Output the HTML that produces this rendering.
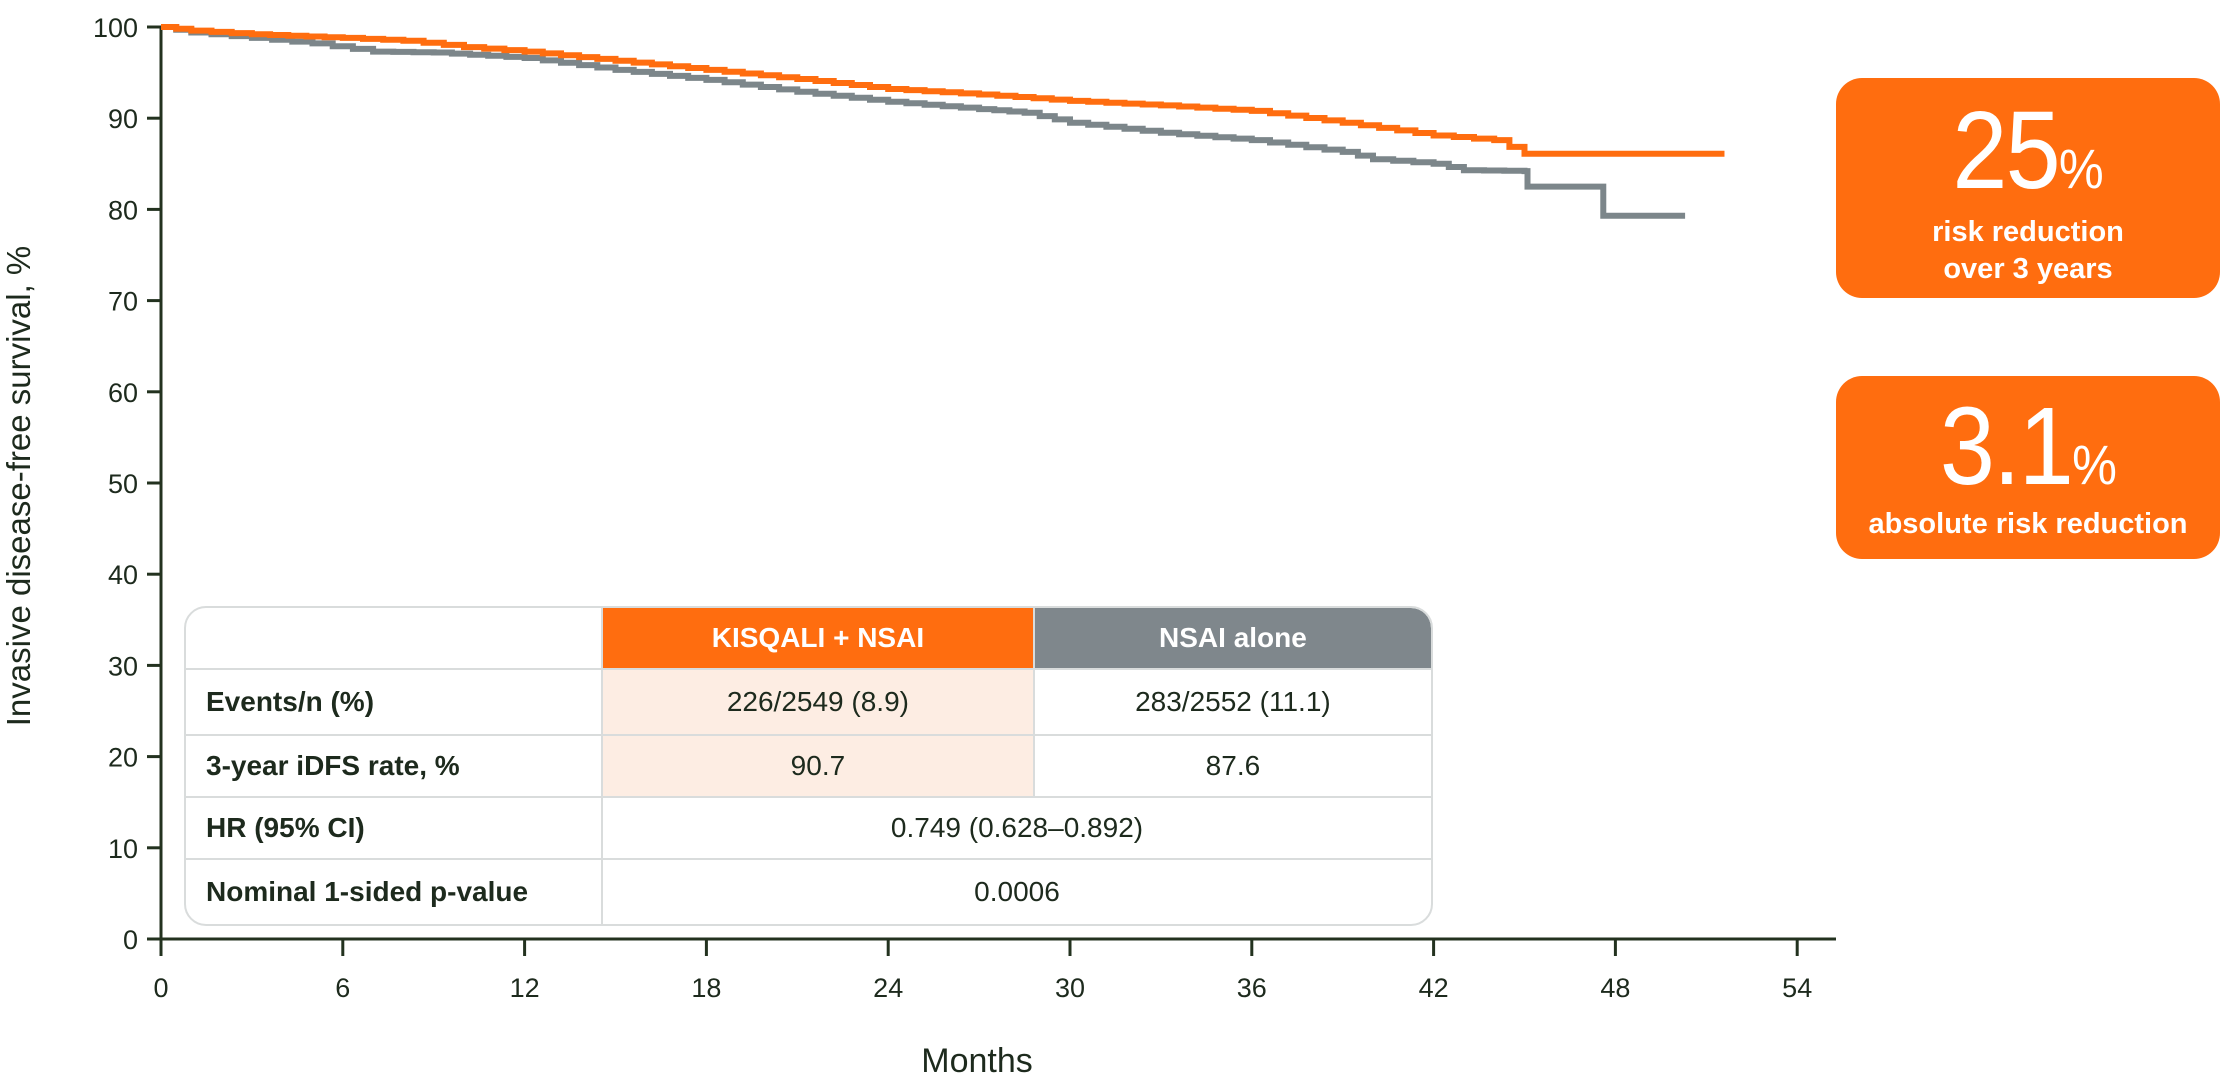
<!DOCTYPE html>
<html><head><meta charset="utf-8"><style>
body{margin:0;background:#fff;width:2220px;height:1091px;overflow:hidden;font-family:"Liberation Sans",sans-serif;color:#1d2a1d}
.box{position:absolute;left:1836px;width:384px;background:#FF6D0F;border-radius:26px;color:#fff;text-align:center}
.big{font-size:110px;font-weight:300;letter-spacing:-2px;line-height:1;display:inline-block;transform:scaleX(0.9)}
.big span{font-size:56px;letter-spacing:0}
.sub{font-size:29px;font-weight:bold;line-height:37px}
table{position:absolute;left:184px;top:606px;width:1249px;border-collapse:separate;border-spacing:0;border:2px solid #d9dcdc;border-radius:22px;font-size:28px;background:#fff;overflow:hidden}
td{height:60px;border-top:2px solid #d9dcdc;text-align:center;padding:0}
td.l{text-align:left;padding-left:20px;font-weight:bold;width:395px}
tr:first-child td{border-top:none}
.c2{border-left:2px solid #d9dcdc}
.c3{border-left:2px solid #d9dcdc}
.ho{background:#FF6D0F;color:#fff;font-weight:bold}
.hg{background:#7F878C;color:#fff;font-weight:bold;border-top-right-radius:20px}
.lo{background:#FDEDE3}
</style></head><body>
<svg width="2220" height="1091" style="position:absolute;left:0;top:0">
<g stroke="#23321f" stroke-width="3">
<line x1="161" y1="27" x2="161" y2="956"/>
<line x1="147" y1="939" x2="1836" y2="939"/>
</g>
<g id="ticks" stroke="#23321f" stroke-width="3"></g>
<g id="lab" font-family="Liberation Sans" font-size="27" fill="#1d2a1d"></g>
<text x="977" y="1072" font-size="34" text-anchor="middle" fill="#1d2a1d">Months</text>
<text transform="translate(30,486) rotate(-90)" font-size="33" text-anchor="middle" fill="#1d2a1d">Invasive disease-free survival, %</text>
<path id="g" fill="none" stroke="#7C868A" stroke-width="6"/>
<path id="o" fill="none" stroke="#FF6D0F" stroke-width="6"/>
</svg>
<div class="box" style="top:78px;height:220px"><div class="big" style="margin-top:18px">25<span>%</span></div><div class="sub" style="margin-top:8px">risk reduction<br>over 3 years</div></div>
<div class="box" style="top:376px;height:183px"><div class="big" style="margin-top:16px">3.1<span>%</span></div><div class="sub" style="margin-top:4px">absolute risk reduction</div></div>
<table>
<tr><td class="l" style="height:58px"></td><td class="c2 ho">KISQALI + NSAI</td><td class="c3 hg">NSAI alone</td></tr>
<tr><td class="l" style="height:64px">Events/n (%)</td><td class="c2 lo">226/2549 (8.9)</td><td class="c3">283/2552 (11.1)</td></tr>
<tr><td class="l" style="height:56px">3-year iDFS rate, %</td><td class="c2 lo">90.7</td><td class="c3">87.6</td></tr>
<tr><td class="l" style="height:59px">HR (95% CI)</td><td class="c2" colspan="2">0.749 (0.628–0.892)</td></tr>
<tr><td class="l" style="height:64px">Nominal 1-sided p-value</td><td class="c2" colspan="2">0.0006</td></tr>
</table>
<script>
var X=m=>161+30.3*m,Y=v=>939-9.12*v;
var t='',l='';
for(var v=0;v<=100;v+=10){t+='<line x1="147" y1="'+Y(v)+'" x2="161" y2="'+Y(v)+'"/>';l+='<text x="138" y="'+(Y(v)+10)+'" text-anchor="end">'+v+'</text>';}
for(var m=0;m<=54;m+=6){t+='<line x1="'+X(m)+'" y1="939" x2="'+X(m)+'" y2="956"/>';l+='<text x="'+X(m)+'" y="997" text-anchor="middle">'+m+'</text>';}
document.getElementById('ticks').innerHTML=t;document.getElementById('lab').innerHTML=l;
function path(k){var d='M'+X(k[0][0])+' '+Y(k[0][1]);
for(var i=1;i<k.length;i++){var a=k[i-1],b=k[i];var n=Math.max(1,Math.round((b[0]-a[0])/0.6));
for(var j=1;j<=n;j++){var mx=a[0]+(b[0]-a[0])*j/n,vy=a[1]+(b[1]-a[1])*j/n;d+=' H'+X(mx).toFixed(1)+' V'+Y(vy).toFixed(1);}}
return d;}
var o=[[0,100],[1,99.6],[3,99.2],[6,98.8],[8,98.5],[10,97.8],[12,97.3],[15,96.3],[18,95.3],[21,94.3],[24,93.2],[27,92.6],[30,91.9],[33,91.4],[36,90.8],[39,89.5],[42,88.1],[44,87.6],[45,86.1]];
var g=[[0,100],[1,99.4],[3,98.8],[5,98.2],[7,97.3],[9,97.2],[12,96.6],[15,95.3],[18,94.2],[21,92.9],[24,91.8],[27,91],[28.5,90.6],[30,89.5],[33,88.4],[36,87.6],[39,86.3],[40,85.5],[42,85.0],[43,84.3],[45,84.2],[45.1,82.5]];
document.getElementById('o').setAttribute('d',path(o)+' H'+X(51.6));
document.getElementById('g').setAttribute('d',path(g)+' H'+X(47.6)+' V'+Y(79.3)+' H'+X(50.3));
</script>
</body></html>
